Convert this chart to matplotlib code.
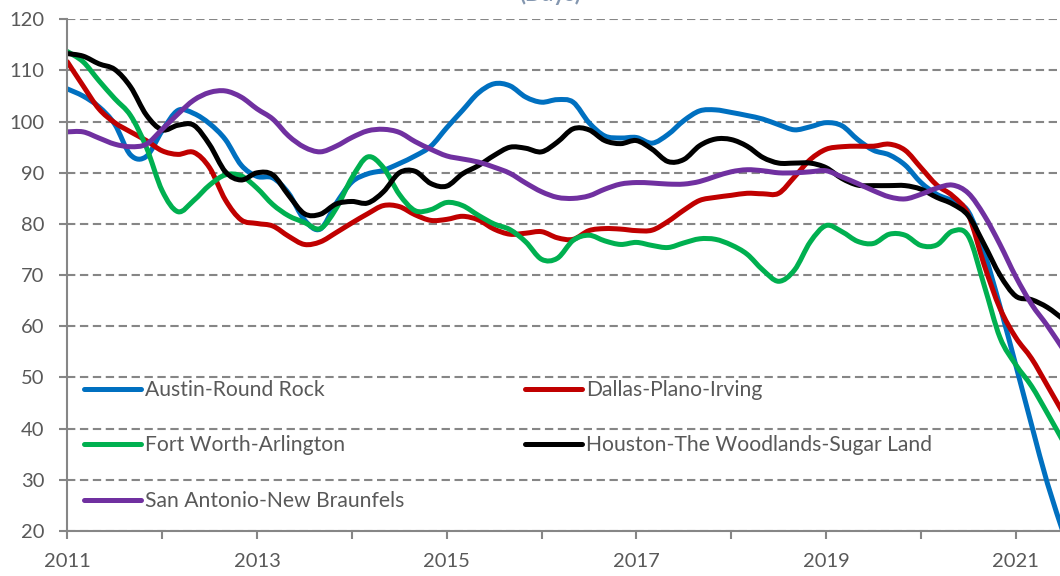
import numpy as np
import pandas as pd
import matplotlib
matplotlib.use("Agg")
import matplotlib.pyplot as plt
from matplotlib.path import Path
from matplotlib.patches import PathPatch
from matplotlib.lines import Line2D

plt.rcParams['font.family'] = ['Lato', 'DejaVu Sans']

# bi-monthly observations, Jan 2011 .. Jul 2021
months = pd.date_range("2011-01-01", "2021-07-01", freq="2MS")
t = months.year + (months.month - 1) / 12.0

austin = [106.4, 105.0, 102.9, 99.5, 93.5, 93.2,
          98.2, 102.2, 101.6, 99.6, 96.5, 91.5,
          89.3, 89.0, 86.0, 80.8, 79.0, 84.0,
          88.2, 89.8, 90.5, 91.8, 93.3, 95.2,
          98.8, 102.2, 105.6, 107.4, 107.0, 104.8,
          103.8, 104.3, 103.8, 99.8, 97.2, 96.8,
          96.9, 95.8, 97.5, 100.2, 102.1, 102.3,
          101.8, 101.2, 100.5, 99.4, 98.4, 99.0,
          99.8, 99.2, 96.5, 94.4, 93.5, 91.5,
          88.1, 85.8, 84.5, 82.4, 74.5, 63.9,
          52.4, 40.7, 29.3, 19.7]

dallas = [111.7, 107.0, 102.5, 99.8, 98.0, 96.3,
          94.3, 93.6, 94.0, 91.0, 84.7, 80.8,
          80.1, 79.6, 77.6, 76.0, 76.5, 78.3,
          80.2, 82.0, 83.6, 83.4, 81.8, 80.7,
          80.9, 81.5, 80.8, 79.0, 78.0, 78.2,
          78.5, 77.3, 77.0, 78.7, 79.1, 79.0,
          78.7, 78.8, 80.5, 82.7, 84.6, 85.2,
          85.6, 86.0, 85.9, 86.0, 89.2, 92.6,
          94.6, 95.1, 95.2, 95.2, 95.6, 94.4,
          91.0, 87.6, 85.5, 81.8, 72.0, 63.5,
          57.8, 53.7, 48.4, 43.0]

fort_worth = [113.7, 111.7, 108.0, 104.5, 101.2, 95.0,
              86.5, 82.4, 84.6, 87.6, 89.6, 89.4,
              87.0, 83.8, 81.6, 80.3, 79.1, 83.0,
              89.0, 93.1, 91.0, 85.8, 82.6, 82.8,
              84.2, 83.6, 81.7, 80.0, 78.9, 76.5,
              73.1, 73.3, 76.8, 77.8, 76.7, 76.0,
              76.4, 75.8, 75.4, 76.3, 77.1, 77.0,
              75.9, 74.1, 71.0, 68.8, 71.0, 76.5,
              79.7, 78.5, 76.6, 76.2, 78.0, 77.8,
              75.8, 75.9, 78.6, 77.6, 68.0, 57.8,
              52.5, 48.3, 43.0, 37.5]

houston = [113.3, 112.8, 111.3, 110.2, 106.8, 101.3,
           98.4, 99.3, 99.3, 95.5, 90.2, 88.6,
           90.0, 89.6, 85.6, 82.0, 81.9, 83.9,
           84.4, 84.1, 86.3, 90.0, 90.3, 87.9,
           87.4, 89.8, 91.4, 93.4, 95.0, 94.8,
           94.1, 96.0, 98.6, 98.4, 96.3, 95.7,
           96.3, 94.6, 92.2, 92.6, 95.3, 96.6,
           96.5, 95.2, 93.0, 91.9, 91.9, 91.9,
           91.0, 88.9, 87.6, 87.5, 87.5, 87.5,
           86.8, 85.2, 83.9, 81.6, 76.0, 70.0,
           65.9, 65.2, 63.7, 61.4]

san_antonio = [98.0, 98.0, 96.8, 95.6, 95.1, 95.6,
               98.5, 101.5, 104.2, 105.7, 106.0, 104.8,
               102.5, 100.5, 97.2, 95.0, 94.1, 95.2,
               96.9, 98.2, 98.5, 97.9, 96.1, 94.6,
               93.3, 92.7, 92.1, 91.1, 89.9, 88.0,
               86.3, 85.2, 85.0, 85.5, 86.8, 87.8,
               88.1, 88.0, 87.8, 87.8, 88.3, 89.3,
               90.2, 90.6, 90.4, 90.0, 90.0, 90.2,
               90.4, 89.2, 87.9, 86.5, 85.3, 84.9,
               85.8, 87.0, 87.6, 86.0, 81.7, 76.0,
               69.7, 64.3, 60.1, 55.5]

names = ["Austin-Round Rock", "Dallas-Plano-Irving", "Fort Worth-Arlington",
         "Houston-The Woodlands-Sugar Land", "San Antonio-New Braunfels"]
series = [austin, dallas, fort_worth, houston, san_antonio]
colors = ["#0070C0", "#C00000", "#00B050", "#000000", "#7030A0"]

years = list(range(2011, 2022))
year_labels = [str(y) if y % 2 == 1 else "" for y in years]


def smooth_path(x, y):
    # excel-style smoothed line: bezier segments through every data point
    x = np.asarray(x, float)
    y = np.asarray(y, float)
    xp = np.concatenate([[x[0]], x, [x[-1]]])
    yp = np.concatenate([[y[0]], y, [y[-1]]])
    verts = [(x[0], y[0])]
    codes = [Path.MOVETO]
    for i in range(len(x) - 1):
        c1 = (x[i] + (xp[i + 2] - xp[i]) / 6, y[i] + (yp[i + 2] - yp[i]) / 6)
        c2 = (x[i + 1] - (xp[i + 3] - xp[i + 1]) / 6, y[i + 1] - (yp[i + 3] - yp[i + 1]) / 6)
        verts += [c1, c2, (x[i + 1], y[i + 1])]
        codes += [Path.CURVE4] * 3
    return Path(verts, codes)


fig = plt.figure(figsize=(10.6, 5.76), dpi=100)
ax = fig.add_axes([67.3 / 1060, 1 - 531 / 576, (1060 - 67.3) / 1060, (531 - 19.3) / 576])

handles = []
for vals, name, c in zip(series, names, colors):
    ax.add_patch(PathPatch(smooth_path(t, vals), fill=False, edgecolor=c, lw=3.6,
                           capstyle='round', joinstyle='round'))
    handles.append(Line2D([], [], color=c, lw=3.6, solid_capstyle='round'))

ax.set_ylim(20, 120)
ax.set_xlim(2011, 2011 + (1060 - 67.3) / 94.85)
ax.set_yticks(range(20, 121, 10))
ax.set_xticks(years)
ax.set_xticklabels(year_labels)

grey = "#868686"
ax.yaxis.grid(True, color=grey, lw=1.5, linestyle=(0, (4, 2.2)))
ax.set_axisbelow(True)
for s in ["top", "right"]:
    ax.spines[s].set_visible(False)
for s in ["left", "bottom"]:
    ax.spines[s].set_color(grey)
    ax.spines[s].set_linewidth(1.5)
ax.tick_params(axis='both', colors=grey, width=1.5, length=5.5, direction='out')
ax.tick_params(axis='y', labelcolor="#595959", labelsize=14.5, pad=11)
ax.tick_params(axis='x', labelcolor="#595959", labelsize=14.5, pad=10)

leg_kw = dict(frameon=False, fontsize=15.2, handlelength=2.7, handletextpad=0.18,
              labelspacing=1.68, borderpad=0, borderaxespad=0, loc='upper left',
              bbox_transform=fig.transFigure, labelcolor="#595959")
leg1 = ax.legend([handles[0], handles[2], handles[4]], [names[0], names[2], names[4]],
                 bbox_to_anchor=(84 / 1060, 1 - 380 / 576), **leg_kw)
ax.add_artist(leg1)
ax.legend([handles[1], handles[3]], [names[1], names[3]],
          bbox_to_anchor=(525 / 1060, 1 - 380 / 576), **leg_kw)

fig.text(550 / 1060, 1 - 1 / 576, "(Days)", ha='center', va='baseline',
         fontsize=16, fontweight='bold', color="#8497B0")

fig.savefig("out.png", dpi=100)
